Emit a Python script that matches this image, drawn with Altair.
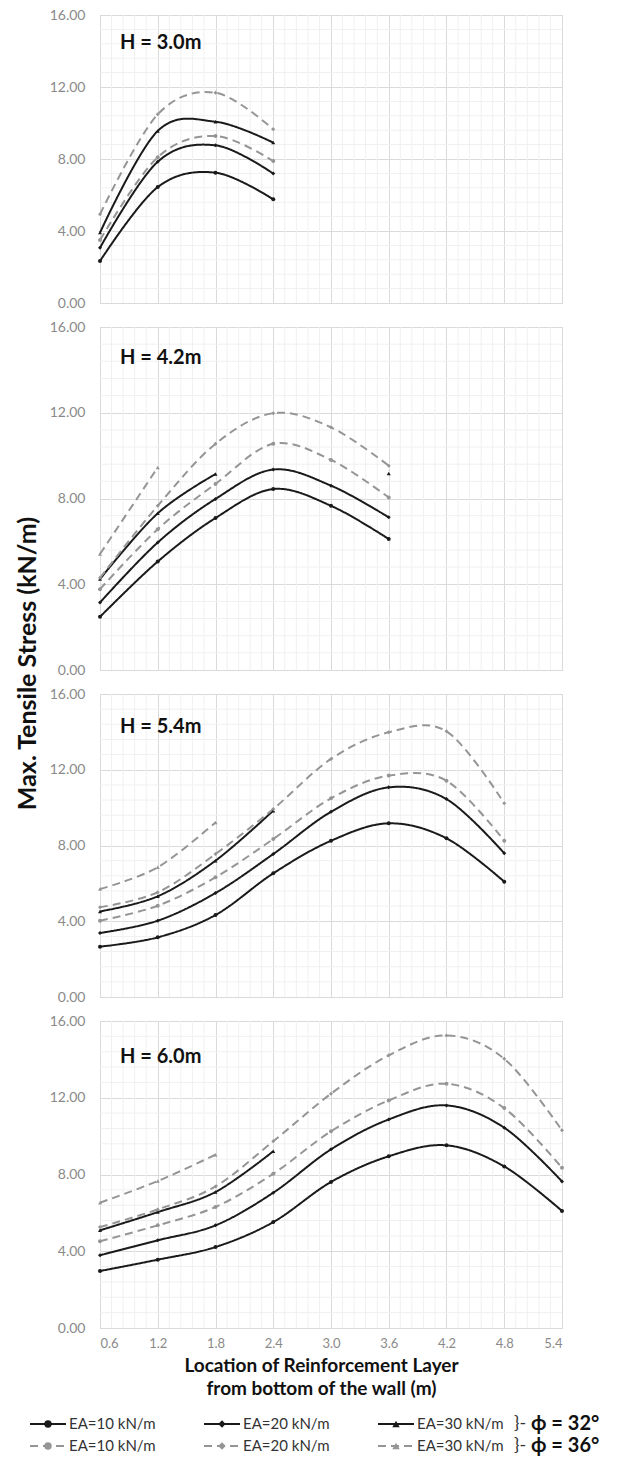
import altair as alt
import pandas as pd

# ---- axis ticks ----
X_TICKS = [0.6, 1.2, 1.8, 2.4, 3.0, 3.6, 4.2, 4.8, 5.4]
Y_TICKS = [0, 4, 8, 12, 16]

# ---- layer locations (m) for each wall height ----
x_h30 = [0.6, 1.2, 1.8, 2.4]
x_h42 = [0.6, 1.2, 1.8, 2.4, 3.0, 3.6]
x_h54 = [0.6, 1.2, 1.8, 2.4, 3.0, 3.6, 4.2, 4.8]
x_h60 = [0.6, 1.2, 1.8, 2.4, 3.0, 3.6, 4.2, 4.8, 5.4]

# ---- max tensile stress (kN/m); s = phi 32 deg, d = phi 36 deg; 10/20/30 = EA ----
h30_s10 = [2.33, 6.44, 7.24, 5.76]
h30_s20 = [3.07, 7.85, 8.76, 7.19]
h30_s30 = [3.91, 9.56, 10.07, 8.91]
h30_d10 = [3.50, 8.10, 9.28, 7.89]
h30_d20 = [4.93, 10.48, 11.68, 9.65]
h30_d30 = []

h42_s10 = [2.48, 5.06, 7.09, 8.44, 7.66, 6.11]
h42_s20 = [3.15, 5.95, 7.98, 9.35, 8.60, 7.12]
h42_s30 = [4.24, 7.31, 9.14]
h42_d10 = [3.77, 6.57, 8.68, 10.55, 9.80, 8.05]
h42_d20 = [4.30, 7.66, 10.55, 11.98, 11.32, 9.53]
h42_d30 = [5.41, 9.45]
h42_s30_single = (3.6, 9.17)   # isolated reading at 3.6 m

h54_s10 = [2.66, 3.15, 4.33, 6.53, 8.25, 9.17, 8.38, 6.09]
h54_s20 = [3.38, 4.03, 5.49, 7.55, 9.78, 11.07, 10.45, 7.59]
h54_s30 = [4.52, 5.32, 7.20, 9.84]
h54_d10 = [4.03, 4.82, 6.32, 8.34, 10.49, 11.69, 11.42, 8.25]
h54_d20 = [4.74, 5.53, 7.55, 9.93, 12.57, 13.98, 14.03, 10.23]
h54_d30 = [5.70, 6.85, 9.22]

h60_s10 = [2.97, 3.56, 4.22, 5.52, 7.61, 8.95, 9.52, 8.42, 6.10]
h60_s20 = [3.79, 4.57, 5.35, 7.05, 9.31, 10.87, 11.60, 10.44, 7.64]
h60_s30 = [5.09, 6.04, 7.09, 9.21]
h60_d10 = [4.52, 5.35, 6.31, 8.04, 10.25, 11.86, 12.73, 11.46, 8.35]
h60_d20 = [5.26, 6.18, 7.38, 9.73, 12.21, 14.21, 15.25, 14.03, 10.30]
h60_d30 = [6.53, 7.66, 9.03]

# ---- legend entries ----
leg_label = ["EA=10 kN/m", "EA=20 kN/m", "EA=30 kN/m"] * 2
leg_ea = [10, 20, 30, 10, 20, 30]
leg_phi = [32, 32, 32, 36, 36, 36]
leg_col = [0, 1, 2, 0, 1, 2]
leg_row = [0, 0, 0, 1, 1, 1]
phi_text = ["\u03d5 = 32\u00b0", "\u03d5 = 36\u00b0"]
phi_row = [0, 1]

FONT = "Lato"
BLACK = "#1a1a1a"
GREY = "#959595"

phi_color = alt.Scale(domain=[32, 36], range=[BLACK, GREY])
phi_dash = alt.Scale(domain=[32, 36], range=[[1, 0], [8, 5]])
ea_shape = alt.Scale(domain=[10, 20, 30], range=["circle", "diamond", "triangle-up"])
x_scale = alt.Scale(domain=[0.6, 5.4], nice=False, zero=False)
y_scale = alt.Scale(domain=[0, 16], nice=False)

minor_x = [round(0.6 + 0.12 * i, 2) for i in range(41) if i % 5]
minor_y = [round(0.8 * i, 2) for i in range(21) if i % 5]


def build_frame(xs, series, extra=None):
    rows = []
    for key, vals in series.items():
        phi = 32 if key[0] == "s" else 36
        ea = int(key[1:])
        for x, v in zip(xs, vals):
            rows.append({"x": x, "v": v, "phi": phi, "ea": ea, "line": key})
    if extra is not None:
        key, (x, v) = extra
        rows.append({"x": x, "v": v, "phi": 32 if key[0] == "s" else 36,
                     "ea": int(key[1:]), "line": key + "_single"})
    return pd.DataFrame(rows)


def panel(title, df, height, title_y, bottom=False, y_title=False):
    if bottom:
        x_axis = alt.Axis(
            values=X_TICKS, format=".1f", grid=True, gridColor="#dadada",
            ticks=False, domain=False, labelColor="#8a8a8a", labelFontSize=13,
            labelPadding=9,
            title=["Location of Reinforcement Layer", "from bottom of the wall (m)"],
            titleFontSize=19, titleFontWeight="bold", titleColor="#111111",
            titlePadding=6, titleLineHeight=23, titleX=221,
        )
    else:
        x_axis = alt.Axis(values=X_TICKS, grid=True, gridColor="#dadada",
                          labels=False, ticks=False, domain=False, title=None)

    y_kwargs = dict(
        values=Y_TICKS, format=".2f", grid=True, gridColor="#dadada",
        ticks=False, domain=False, labelColor="#8a8a8a", labelFontSize=14,
        labelPadding=15,
    )
    if y_title:
        y_kwargs.update(
            title="Max. Tensile Stress (kN/m)", titleFontSize=25,
            titleFontWeight="bold", titleColor="#111111", titleAngle=270,
            titleX=-73, titleY=336, titleAlign="center", titleBaseline="middle",
        )
    else:
        y_kwargs.update(title=None)
    y_axis = alt.Axis(**y_kwargs)

    # light minor grid, drawn beneath the curves
    grid_x = alt.Chart(pd.DataFrame({"x": minor_x})).mark_rule(
        color="#f0f0f0", strokeWidth=1
    ).encode(x=alt.X("x:Q", scale=x_scale, axis=x_axis))
    grid_y = alt.Chart(pd.DataFrame({"v": minor_y})).mark_rule(
        color="#f0f0f0", strokeWidth=1
    ).encode(y=alt.Y("v:Q", scale=y_scale, axis=y_axis))

    base = alt.Chart(df)
    lines = base.mark_line(interpolate="cardinal", strokeWidth=2).encode(
        x=alt.X("x:Q", scale=x_scale, axis=x_axis),
        y=alt.Y("v:Q", scale=y_scale, axis=y_axis),
        color=alt.Color("phi:O", scale=phi_color, legend=None),
        strokeDash=alt.StrokeDash("phi:O", scale=phi_dash, legend=None),
        detail="line:N",
    )
    points = base.mark_point(filled=True, size=16, opacity=1).encode(
        x=alt.X("x:Q", scale=x_scale, axis=x_axis),
        y=alt.Y("v:Q", scale=y_scale, axis=y_axis),
        color=alt.Color("phi:O", scale=phi_color, legend=None),
        shape=alt.Shape("ea:O", scale=ea_shape, legend=None),
    )
    label = alt.Chart(pd.DataFrame({"t": [title]})).mark_text(
        align="left", baseline="middle", fontSize=20, fontWeight="bold",
        font=FONT, color="#111111",
    ).encode(x=alt.value(20), y=alt.value(title_y), text="t:N")

    return alt.layer(grid_x, grid_y, lines, points, label).properties(
        width=462, height=height
    )


p1 = panel("H = 3.0m", build_frame(x_h30, {
    "s10": h30_s10, "s20": h30_s20, "s30": h30_s30,
    "d10": h30_d10, "d20": h30_d20, "d30": h30_d30}), 288, 28)
p2 = panel("H = 4.2m", build_frame(x_h42, {
    "s10": h42_s10, "s20": h42_s20, "s30": h42_s30,
    "d10": h42_d10, "d20": h42_d20, "d30": h42_d30},
    extra=("s30", h42_s30_single)), 343, 31, y_title=True)
p3 = panel("H = 5.4m", build_frame(x_h54, {
    "s10": h54_s10, "s20": h54_s20, "s30": h54_s30,
    "d10": h54_d10, "d20": h54_d20, "d30": h54_d30}), 303, 33)
p4 = panel("H = 6.0m", build_frame(x_h60, {
    "s10": h60_s10, "s20": h60_s20, "s30": h60_s30,
    "d10": h60_d10, "d20": h60_d20, "d30": h60_d30}), 307, 36, bottom=True)

# ---- legend block ----
leg_df = pd.DataFrame({"label": leg_label, "ea": leg_ea, "phi": leg_phi,
                       "col": leg_col, "row": leg_row})
phi_df = pd.DataFrame({"t": phi_text, "row": phi_row, "col": [2, 2]})
lx = alt.Scale(domain=[0, 2], range=[-70, 278])
ly = alt.Scale(domain=[0, 1], range=[72, 94])

leg_base = alt.Chart(leg_df)
leg_lines = leg_base.mark_rule(strokeWidth=2, x2Offset=36).encode(
    x=alt.X("col:Q", scale=lx, axis=None),
    x2="col:Q",
    y=alt.Y("row:Q", scale=ly, axis=None),
    color=alt.Color("phi:O", scale=phi_color, legend=None),
    strokeDash=alt.StrokeDash("phi:O", scale=phi_dash, legend=None),
)
leg_marks = leg_base.mark_point(filled=True, size=55, opacity=1, xOffset=18).encode(
    x=alt.X("col:Q", scale=lx, axis=None),
    y=alt.Y("row:Q", scale=ly, axis=None),
    color=alt.Color("phi:O", scale=phi_color, legend=None),
    shape=alt.Shape("ea:O", scale=ea_shape, legend=None),
)
leg_text = leg_base.mark_text(
    align="left", baseline="middle", dx=39, fontSize=15, font=FONT, color="#333333"
).encode(
    x=alt.X("col:Q", scale=lx, axis=None),
    y=alt.Y("row:Q", scale=ly, axis=None),
    text="label:N",
)
brace = alt.Chart(phi_df).mark_text(
    align="left", baseline="middle", dx=136, fontSize=18, font=FONT, color="#333333"
).encode(
    x=alt.X("col:Q", scale=lx, axis=None),
    y=alt.Y("row:Q", scale=ly, axis=None),
    text=alt.value("}-"),
)
phi_lbl = alt.Chart(phi_df).mark_text(
    align="left", baseline="middle", dx=153, fontSize=20, fontWeight="bold",
    font=FONT, color="#111111"
).encode(
    x=alt.X("col:Q", scale=lx, axis=None),
    y=alt.Y("row:Q", scale=ly, axis=None),
    text="t:N",
)
legend = alt.layer(leg_lines, leg_marks, leg_text, brace, phi_lbl).properties(
    width=462, height=110, view=alt.ViewBackground(strokeOpacity=0)
)

chart = alt.vconcat(p1, p2, p3, p4, legend, spacing=24, bounds="flush").resolve_scale(
    x="independent", y="independent"
).properties(
    padding={"left": 14, "top": 7, "right": 5, "bottom": 5}
).configure(font=FONT).configure_view(stroke="#cfcfcf", strokeWidth=1)

chart.save("out.html", embed_options={"renderer": "svg", "actions": False})
